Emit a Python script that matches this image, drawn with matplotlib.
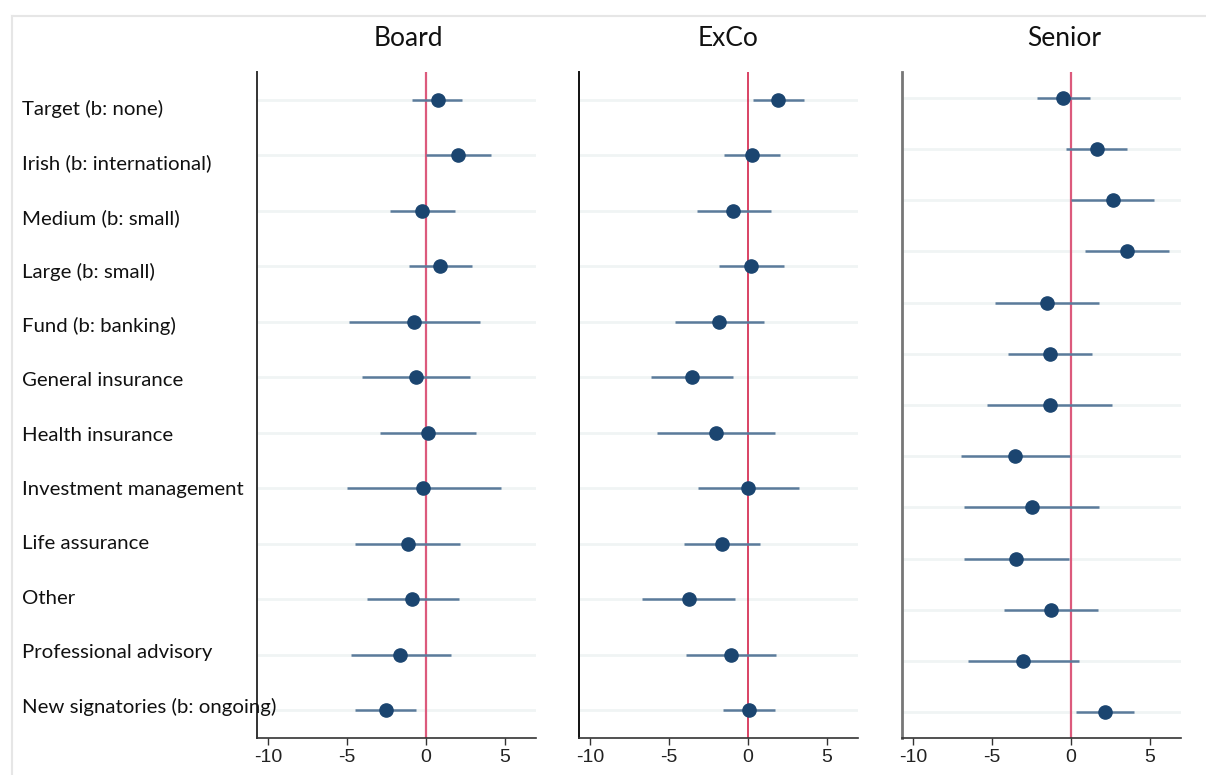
import matplotlib
matplotlib.use("Agg")
import matplotlib.pyplot as plt
from matplotlib.lines import Line2D

labels = ["Target (b: none)", "Irish (b: international)", "Medium (b: small)",
          "Large (b: small)", "Fund (b: banking)", "General insurance",
          "Health insurance", "Investment management", "Life assurance",
          "Other", "Professional advisory", "New signatories (b: ongoing)"]

board_est = [0.78, 2.07, -0.25, 0.93, -0.72, -0.63, 0.15, -0.17, -1.16, -0.85, -1.61, -2.54]
board_lo = [-0.85, 0.0, -2.28, -1.08, -4.89, -4.02, -2.92, -5.03, -4.48, -3.74, -4.78, -4.48]
board_hi = [2.33, 4.15, 1.84, 2.96, 3.47, 2.79, 3.22, 4.76, 2.18, 2.09, 1.59, -0.61]

exco_est = [1.93, 0.26, -0.91, 0.21, -1.80, -3.52, -2.05, 0.04, -1.63, -3.75, -1.08, 0.08]
exco_lo = [0.30, -1.48, -3.23, -1.80, -4.61, -6.12, -5.79, -3.15, -4.03, -6.73, -3.92, -1.55]
exco_hi = [3.60, 2.03, 1.48, 2.33, 1.01, -0.95, 1.74, 3.26, 0.80, -0.79, 1.80, 1.74]

senior_est = [-0.51, 1.67, 2.66, 3.55, -1.50, -1.31, -1.31, -3.53, -2.47, -3.45, -1.23, -3.03, 2.18]
senior_lo = [-2.16, -0.28, 0.02, 0.91, -4.80, -3.98, -5.31, -7.00, -6.77, -6.77, -4.23, -6.54, 0.32]
senior_hi = [1.21, 3.57, 5.27, 6.22, 1.78, 1.33, 2.64, -0.04, 1.80, -0.10, 1.76, 0.53, 4.04]

titles = ["Board", "ExCo", "Senior"]
xticks = [-10, -5, 0, 5]

W, H = 1206, 775
fig = plt.figure(figsize=(W / 100, H / 100), dpi=100)
fig.patch.set_facecolor("white")

panels = [
    (257, board_est, board_lo, board_hi, "#333333", 1.4, "#dc5a7c", 1.6),
    (579, exco_est, exco_lo, exco_hi, "#111111", 1.4, "#d0103a", 1.1),
    (902, senior_est, senior_lo, senior_hi, "#777777", 2.0, "#dc5a7c", 1.6),
]
title_x = [408, 728, 1064]

dot_color = "#1b4570"
ci_color = "#5b7b9b"
grid_color = "#f0f4f4"

axes = []
for (left, est, lo, hi, spc, spw, refc, refw), ttl, tx in zip(panels, titles, title_x):
    ax = fig.add_axes([left / W, 1 - 738 / H, 279 / W, 666 / H])
    n = len(est)
    ys = list(range(1, n + 1))
    ax.set_ylim(n + 0.5, 0.5)
    ax.set_xlim(-10.72, 7.0)
    for y in ys:
        ax.axhline(y, color=grid_color, lw=2, zorder=0)
    ax.axvline(0, color=refc, lw=refw, zorder=1)
    ax.hlines(ys, lo, hi, color=ci_color, lw=1.8, zorder=2)
    ax.plot(est, ys, "o", color=dot_color, ms=9.5, zorder=3, mec=dot_color)
    ax.set_yticks([])
    ax.set_xticks(xticks)
    ax.set_xticklabels([str(t) for t in xticks], fontfamily="Liberation Sans", fontsize=14, color="#222222")
    ax.tick_params(axis="x", length=5, width=1, color="#333333", pad=3)
    for s in ["top", "right"]:
        ax.spines[s].set_visible(False)
    ax.spines["left"].set_color(spc)
    ax.spines["left"].set_linewidth(spw)
    ax.spines["bottom"].set_color("#333333")
    ax.spines["bottom"].set_linewidth(1.2)
    fig.text(tx / W, 1 - 38 / H, ttl, ha="center", va="center", fontfamily="Lato", fontsize=19, color="#111111")
    axes.append(ax)

# row labels, evenly spaced from y=109 px to y=707 px
n_lab = len(labels)
for i, lab in enumerate(labels):
    ypx = 109 + i * (707 - 109) / (n_lab - 1)
    fig.text(22 / W, 1 - ypx / H, lab, ha="left", va="center",
             fontfamily="Lato", fontsize=14.7, color="#111111", zorder=5)

# light frame lines of the screenshot
fig.add_artist(Line2D([12 / W, 12 / W], [0, 1 - 16 / H], transform=fig.transFigure, color="#e6e6e6", lw=1.5))
fig.add_artist(Line2D([12 / W, 1], [1 - 16 / H, 1 - 16 / H], transform=fig.transFigure, color="#e6e6e6", lw=1.5))

fig.savefig("out.png", dpi=100, facecolor="white")
